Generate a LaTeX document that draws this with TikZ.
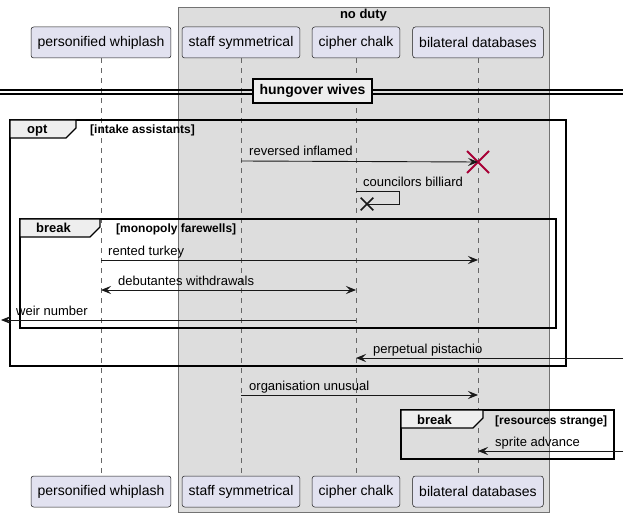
\documentclass[tikz,border=0pt]{standalone}
\usepackage{fontspec}
\setmainfont{Liberation Sans}
\usetikzlibrary{arrows.meta,shapes.misc}
\definecolor{part_fill}{HTML}{E2E2F0}
\definecolor{box_fill}{HTML}{DDDDDD}
\definecolor{tab_fill}{HTML}{EEEEEE}
\definecolor{dark_line}{HTML}{181818}
\definecolor{kill_red}{HTML}{A80036}

\begin{document}
\begin{tikzpicture}[x=1pt, y=-1pt, font=\fontsize{13}{15}\selectfont,
  participant_box/.style={draw=dark_line, fill=part_fill, rounded corners=2.5pt, line width=0.5pt,
    minimum height=31pt, inner xsep=6.5pt, font=\fontsize{14}{16}\selectfont},
  lifeline/.style={draw=black!60, line width=0.6pt, dash pattern=on 5pt off 5pt},
  msg/.style={draw=dark_line, line width=0.9pt, -{Stealth[length=10pt,width=8pt,inset=4pt]}},
  msg_both/.style={draw=dark_line, line width=0.9pt, {Stealth[length=10pt,width=8pt,inset=4pt]}-{Stealth[length=10pt,width=8pt,inset=4pt]}},
  msg_label/.style={anchor=base west, inner sep=0pt},
  frame_line/.style={draw=black, line width=1.6pt},
  frame_tab/.style={draw=black, fill=tab_fill, line width=1.2pt},
  tab_label/.style={anchor=base west, inner sep=0pt, font=\fontsize{13}{15}\selectfont\bfseries},
  cond_label/.style={anchor=base west, inner sep=0pt, font=\fontsize{12}{14}\selectfont\bfseries}]

\useasboundingbox (0,0) rectangle (630,516);

% box round the three participants
\draw[fill=box_fill, draw=black!55, line width=0.6pt] (178,7) rectangle (549,512);
\node[font=\fontsize{13}{15}\selectfont\bfseries] (box_title) at (363.5,15) {no duty};

% participants
\node[participant_box] (pw_top) at (101,42.5) {personified whiplash};
\node[participant_box] (ss_top) at (241,42.5) {staff symmetrical};
\node[participant_box] (cc_top) at (356,42.5) {cipher chalk};
\node[participant_box] (bd_top) at (478,42.5) {bilateral databases};

\node[participant_box] (pw_bot) at (101,491.5) {personified whiplash};
\node[participant_box] (ss_bot) at (241,491.5) {staff symmetrical};
\node[participant_box] (cc_bot) at (356,491.5) {cipher chalk};
\node[participant_box] (bd_bot) at (478,491.5) {bilateral databases};

\draw[lifeline] (pw_top) -- (pw_bot);
\draw[lifeline] (ss_top) -- (ss_bot);
\draw[lifeline] (cc_top) -- (cc_bot);
\draw[lifeline] (bd_top) -- (bd_bot);

% divider
\draw[line width=1.2pt] (0,90) -- (623,90);
\draw[line width=1.2pt] (0,94) -- (623,94);
\node[draw=black, fill=tab_fill, line width=2pt, minimum width=119pt, minimum height=24pt,
  font=\fontsize{14}{16}\selectfont\bfseries] (div_box) at (312.5,91) {hungover wives};

% frames
\draw[frame_line] (10,120) rectangle (566,366);
\draw[frame_tab] (10,120) -- (76,120) -- (76,128) -- (66,138) -- (10,138) -- cycle;
\node[tab_label] (opt_tab) at (27,134) {opt};
\node[cond_label] (opt_cond) at (90,134) {[intake assistants]};

\draw[frame_line] (20,219) rectangle (556,328);
\draw[frame_tab] (20,219) -- (100,219) -- (100,227) -- (90,237) -- (20,237) -- cycle;
\node[tab_label] (brk_tab) at (36,233) {break};
\node[cond_label] (brk_cond) at (116,233) {[monopoly farewells]};

\draw[frame_line] (401,410) rectangle (614,459);
\draw[frame_tab] (401,410) -- (483,410) -- (483,418) -- (473,428) -- (401,428) -- cycle;
\node[tab_label] (brk2_tab) at (417,424) {break};
\node[cond_label] (brk2_cond) at (495,424) {[resources strange]};

% message ends
\coordinate (ri_from) at (241,161);
\node[cross out, draw=kill_red, line width=2pt, minimum size=20pt, inner sep=0pt] (bd_end) at (478,162) {};
\coordinate (cb_from) at (356,191);
\node[cross out, draw=dark_line, line width=1.6pt, minimum size=11pt, inner sep=0pt] (cc_end) at (367,204) {};
\coordinate (rt_from) at (101,260);
\coordinate (rt_to) at (478,260);
\coordinate (dw_a) at (101,290);
\coordinate (dw_b) at (356,290);
\coordinate (wn_from) at (356,320);
\coordinate (wn_to) at (1,320);
\coordinate (pp_from) at (623,358);
\coordinate (pp_to) at (356,358);
\coordinate (ou_from) at (241,395);
\coordinate (ou_to) at (478,395);
\coordinate (sa_from) at (623,451);
\coordinate (sa_to) at (478,451);

% messages
\draw[msg] (ri_from) -- (bd_end.center);
\node[msg_label] (ri_label) at (249,156) {reversed inflamed};

\draw[draw=dark_line, line width=0.9pt] (cb_from) -- (399,191) -- (399,204) -- (cc_end.center);
\node[msg_label] (cb_label) at (363,187) {councilors billiard};

\draw[msg] (rt_from) -- (rt_to);
\node[msg_label] (rt_label) at (108,255) {rented turkey};

\draw[msg_both] (dw_a) -- (dw_b);
\node[msg_label] (dw_label) at (118,286) {debutantes withdrawals};

\draw[msg] (wn_from) -- (wn_to);
\node[msg_label] (wn_label) at (16,316) {weir number};

\draw[msg] (pp_from) -- (pp_to);
\node[msg_label] (pp_label) at (373,353) {perpetual pistachio};

\draw[msg] (ou_from) -- (ou_to);
\node[msg_label] (ou_label) at (249,390) {organisation unusual};

\draw[msg] (sa_from) -- (sa_to);
\node[msg_label] (sa_label) at (495,446) {sprite advance};

\end{tikzpicture}
\end{document}
